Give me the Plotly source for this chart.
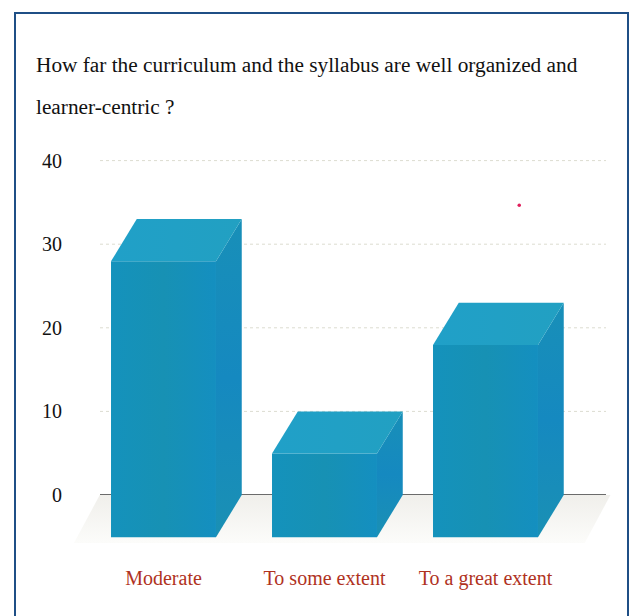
import plotly.graph_objects as go

categories = ["Moderate", "To some extent", "To a great extent"]
values = [33, 10, 23]
y_ticks = [0, 10, 20, 30, 40]
title_lines = ["How far the curriculum and the syllabus are well organized and", "learner-centric ?"]

W, H = 631, 616
# plot area in page pixels
left, right, top, bottom = 70, 612, 152, 553
bar_w = 0.652
depth_x = 0.16
depth_y = 5.05

front_grad = dict(type="horizontal", colorscale=[[0, "#1492bc"], [0.5, "#1791b4"], [1, "#148fc0"]])
side_grad = dict(type="vertical", colorscale=[[0, "#1a90b4"], [0.5, "#1589c0"], [1, "#188fb8"]])
top_grad = dict(type="horizontal", colorscale=[[0, "#20a0c8"], [1, "#22a0c2"]])
floor_grad = dict(type="vertical", colorscale=[[0, "#fcfcfa"], [1, "#f0efeb"]])


def px(x):
    return (x - left) / (right - left)


def py(y):
    return (bottom - y) / (bottom - top)


def face(xs, ys, grad):
    return go.Scatter(x=xs, y=ys, mode="lines", fill="toself", fillgradient=grad,
                      line=dict(width=0), cliponaxis=False, hoverinfo="skip", showlegend=False)


def hline(v, color, width, dash):
    return go.Scatter(x=[x_start, x_end], y=[v, v], mode="lines", line=dict(color=color, width=width, dash=dash),
                      hoverinfo="skip", showlegend=False)


fig = go.Figure()

# back wall lines only span the chart, not the floor corners
x_start = (100 - 163.5) / 161
x_end = (606 - 163.5) / 161
for v in y_ticks:
    if v == 0:
        fig.add_trace(hline(v, "#3a3a3a", 1.5, "solid"))
    else:
        fig.add_trace(hline(v, "#dcdcd0", 1, "dot"))

# floor under the bars
x0 = -bar_w / 2 - 0.23
x1 = 2 + bar_w / 2 + 0.29
fig.add_trace(face([x0 + depth_x, x1 + depth_x, x1, x0, x0 + depth_x], [0, 0, -depth_y - 0.7, -depth_y - 0.7, 0], floor_grad))

for i, v in enumerate(values):
    xl = i - bar_w / 2
    xr = i + bar_w / 2
    fig.add_trace(face([xl, xr, xr, xl, xl], [-depth_y, -depth_y, v - depth_y, v - depth_y, -depth_y], front_grad))
    fig.add_trace(face([xr, xr + depth_x, xr + depth_x, xr, xr], [-depth_y, 0, v, v - depth_y, -depth_y], side_grad))
    fig.add_trace(face([xl, xr, xr + depth_x, xl + depth_x, xl], [v - depth_y, v - depth_y, v, v, v - depth_y], top_grad))

fig.update_xaxes(range=[(left - 163.5) / 161, (right - 163.5) / 161], tickvals=[0, 1, 2], ticktext=categories,
                 showgrid=False, zeroline=False, showline=False, ticks="",
                 tickfont=dict(family="Liberation Serif", size=20, color="#b0321e"), ticklabelstandoff=11)
fig.update_yaxes(range=[(495 - bottom) / 8.36, (495 - top) / 8.36], tickvals=y_ticks,
                 showgrid=False, zeroline=False, showline=False, ticks="",
                 tickfont=dict(family="Liberation Serif", size=20, color="#111111"), ticklabelstandoff=7)

for line, y in zip(title_lines, [65, 107]):
    fig.add_annotation(text=line, xref="paper", yref="paper", x=px(34), y=py(y), xanchor="left", yanchor="middle",
                       showarrow=False, font=dict(family="Liberation Serif", size=21.3, color="#111111"))

# page frame and the speck from the scan
fig.add_shape(type="rect", xref="paper", yref="paper", x0=px(15), x1=px(628), y0=py(640), y1=py(13),
              line=dict(color="#1f4f86", width=2), layer="below")
fig.add_shape(type="circle", xref="paper", yref="paper", x0=px(517.5), x1=px(521), y0=py(207), y1=py(203.5),
              fillcolor="#e01f5c", line=dict(width=0))

fig.update_layout(width=W, height=H, autosize=False, plot_bgcolor="white", paper_bgcolor="white",
                  margin=dict(l=left, r=W - right, t=top, b=H - bottom), showlegend=False)

fig.write_html("out.html", post_script="document.body.style.margin='0'", config=dict(displayModeBar=False))
